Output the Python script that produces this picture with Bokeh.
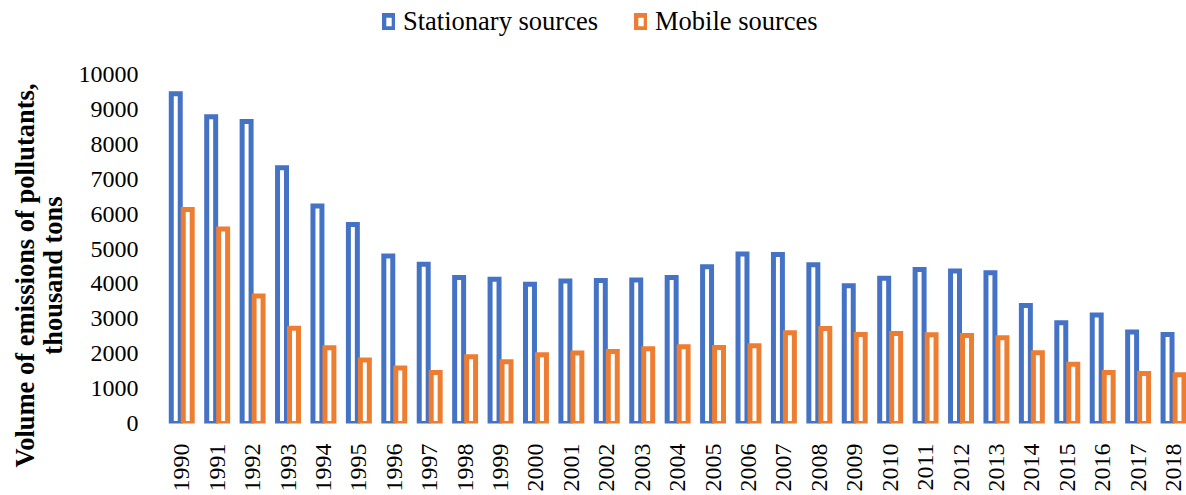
import math
from bokeh.plotting import figure
from bokeh.layouts import column, row
from bokeh.models import (ColumnDataSource, Range1d, FixedTicker, SingleIntervalTicker,
                          Legend, LegendItem, Label)
from bokeh.transform import dodge
from bokeh.embed import file_html
from bokeh.resources import INLINE

years = [str(y) for y in range(1990, 2019)]
stationary = [9450, 8790, 8650, 7330, 6230, 5700, 4800, 4560, 4180, 4130,
              3990, 4080, 4100, 4110, 4180, 4490, 4860, 4840, 4550, 3950,
              4160, 4410, 4370, 4320, 3380, 2890, 3110, 2620, 2550]
mobile = [6130, 5570, 3650, 2730, 2170, 1820, 1590, 1460, 1910, 1770,
          1970, 2020, 2060, 2140, 2200, 2180, 2230, 2600, 2720, 2550,
          2580, 2540, 2520, 2460, 2030, 1700, 1460, 1430, 1400]
series_names = ["Stationary sources", "Mobile sources"]
y_title_lines = ["Volume of emissions of pollutants,", "thousand tons"]

BLUE = "#4472C4"
ORANGE = "#ED7D31"
FONT = "Liberation Serif"


def blank(w, h):
    f = figure(width=w, height=h, output_backend="svg", toolbar_location=None,
               title=None, x_axis_type=None, y_axis_type=None, min_border=0,
               x_range=Range1d(-100, -99), y_range=Range1d(-100, -99))
    f.outline_line_color = None
    f.grid.visible = False
    f.frame_align = False
    return f


# ---------------- main chart ----------------
src = ColumnDataSource(dict(idx=list(range(len(years))), year=years,
                            stationary=stationary, mobile=mobile))

p = figure(width=1120, height=435, output_backend="svg", toolbar_location=None,
           title=None,
           x_range=Range1d(-0.488, 28.365), y_range=Range1d(0, 10000),
           min_border_left=98, min_border_top=14, min_border_bottom=72,
           min_border_right=0)
p.outline_line_color = None
p.xgrid.visible = False
p.ygrid.visible = False

p.vbar(x=dodge("idx", -0.17), top="stationary", width=0.253, source=src,
       fill_color="white", line_color=BLUE, line_width=5, line_join="miter")
p.vbar(x=dodge("idx", 0.168), top="mobile", width=0.253, source=src,
       fill_color="white", line_color=ORANGE, line_width=5, line_join="miter")

ya = p.yaxis[0]
ya.ticker = SingleIntervalTicker(interval=1000)
ya.axis_line_color = None
ya.major_tick_line_color = None
ya.minor_tick_line_color = None
ya.major_label_standoff = 20
ya.major_label_text_font = FONT
ya.major_label_text_font_size = "24px"
ya.major_label_text_color = "#000000"

xa = p.xaxis[0]
xa.ticker = FixedTicker(ticks=list(range(len(years))))
xa.major_label_overrides = {i: y for i, y in enumerate(years)}
xa.major_label_orientation = math.pi / 2
xa.axis_line_color = None
xa.major_tick_line_color = None
xa.minor_tick_line_color = None
xa.major_label_standoff = 14
xa.major_label_text_font = FONT
xa.major_label_text_font_size = "24px"
xa.major_label_text_color = "#000000"

# ---------------- y title (left strip) ----------------
tf = blank(66, 435)
for line, xs in zip(y_title_lines, [24, 52]):
    tf.add_layout(Label(x=xs, y=220, x_units="screen", y_units="screen",
                        text=line, angle=math.pi / 2, text_align="center",
                        text_baseline="middle", text_font=FONT,
                        text_font_size="26.5px", text_font_style="bold",
                        text_color="#000000"))

# ---------------- legend (top strip) ----------------
lf = blank(1186, 60)
g1 = lf.vbar(x="idx", top="stationary", width=0.253, source=src, fill_color="white",
             line_color=BLUE, line_width=5, line_join="miter", visible=False)
g2 = lf.vbar(x="idx", top="mobile", width=0.253, source=src, fill_color="white",
             line_color=ORANGE, line_width=5, line_join="miter", visible=False)
legend = Legend(items=[LegendItem(label=series_names[0], renderers=[g1]),
                       LegendItem(label=series_names[1], renderers=[g2])],
                orientation="horizontal", location=(382, 23),
                label_text_font=FONT, label_text_font_size="26.5px",
                label_text_color="#000000", label_height=30,
                glyph_width=13, glyph_height=17, label_standoff=8, spacing=36,
                padding=0, margin=0, border_line_color=None,
                background_fill_alpha=0, inactive_fill_alpha=0)
lf.add_layout(legend, "center")

layout = column(lf, row(tf, p, spacing=0), spacing=0)
open("out.html", "w").write(file_html(layout, INLINE))
